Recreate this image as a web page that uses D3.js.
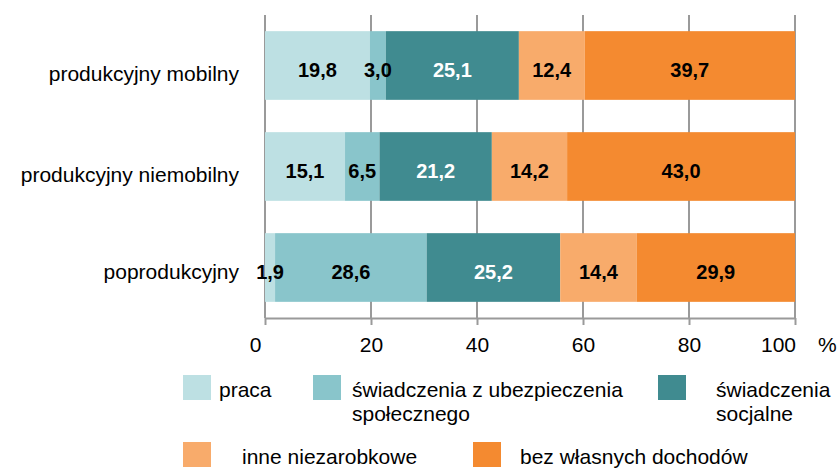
<!DOCTYPE html>
<html>
<head>
<meta charset="utf-8">
<script src="https://cdn.jsdelivr.net/npm/d3@7"></script>
<style>
  body { margin: 0; background: #fff; }
  svg { font-family: 'Liberation Sans', Arial, sans-serif; }
</style>
</head>
<body>
<script>
const categories = ['produkcyjny mobilny', 'produkcyjny niemobilny', 'poprodukcyjny'];
const seriesNames = ['praca', 'świadczenia z ubezpieczenia społecznego', 'świadczenia socjalne', 'inne niezarobkowe', 'bez własnych dochodów'];
const praca = [19.8, 15.1, 1.9];
const ubezpieczenia = [3.0, 6.5, 28.6];
const socjalne = [25.1, 21.2, 25.2];
const inne = [12.4, 14.2, 14.4];
const bezDochodow = [39.7, 43.0, 29.9];
const xTicks = [0, 20, 40, 60, 80, 100];
const colors = ['#bde0e3', '#89c5cb', '#408b90', '#f8ab6b', '#f48a30'];
const labelColors = ['#000', '#000', '#fff', '#000', '#000'];

const width = 838;
const height = 470;
const margin = { left: 265, right: 43, top: 15, bottom: 152 };

const rows = categories.map((c, i) => {
  const o = { cat: c };
  seriesNames.forEach((s, j) => { o[s] = [praca, ubezpieczenia, socjalne, inne, bezDochodow][j][i]; });
  return o;
});

const stacked = d3.stack().keys(seriesNames)(rows);

const svg = d3.select('body')
  .append('svg')
  .attr('width', width)
  .attr('height', height);

const x = d3.scaleLinear()
  .domain([0, 100])
  .range([margin.left, width - margin.right]);

const y = d3.scaleBand()
  .domain(categories)
  .range([margin.top, height - margin.bottom])
  .paddingInner(0.32)
  .paddingOuter(0.16);

// gridlines
svg.append('g')
  .selectAll('line')
  .data(xTicks)
  .enter()
  .append('line')
  .attr('x1', d => x(d))
  .attr('x2', d => x(d))
  .attr('y1', margin.top)
  .attr('y2', height - margin.bottom)
  .attr('stroke', '#9a9a9a')
  .attr('stroke-width', 2);

// bars
const layer = svg.append('g')
  .selectAll('g')
  .data(stacked)
  .enter()
  .append('g')
  .attr('fill', (d, i) => colors[i]);

layer.selectAll('rect')
  .data(d => d)
  .enter()
  .append('rect')
  .attr('x', d => x(d[0]))
  .attr('width', d => x(d[1]) - x(d[0]))
  .attr('y', d => y(d.data.cat))
  .attr('height', y.bandwidth());

// value labels
stacked.forEach((s, i) => {
  svg.append('g')
    .selectAll('text')
    .data(s)
    .enter()
    .append('text')
    .attr('x', d => x((d[0] + d[1]) / 2))
    .attr('y', d => y(d.data.cat) + y.bandwidth() / 2 + 11)
    .attr('text-anchor', 'middle')
    .attr('font-size', 20)
    .attr('font-weight', 'bold')
    .attr('fill', labelColors[i])
    .text(d => (d[1] - d[0]).toFixed(1).replace('.', ','));
});

// x axis
const xAxis = svg.append('g')
  .attr('transform', `translate(0,${ height - margin.bottom })`)
  .call(d3.axisBottom(x).tickValues(xTicks).tickSize(7).tickSizeOuter(0).tickPadding(12));

xAxis.select('.domain').attr('stroke', '#9a9a9a').attr('stroke-width', 2);
xAxis.selectAll('.tick line').attr('stroke', '#9a9a9a').attr('stroke-width', 2);
xAxis.selectAll('.tick text')
  .attr('font-size', 21)
  .attr('font-family', "'Liberation Sans', Arial, sans-serif")
  .attr('fill', '#000')
  .attr('dx', (d, i) => i === 0 ? -10 : (i === xTicks.length - 1 ? -17 : 0));

svg.append('text')
  .attr('x', x(100) + 23)
  .attr('y', height - margin.bottom + 34)
  .attr('font-size', 21)
  .text('%');

// category labels
const labelShift = [15, 15, 11];
svg.append('g')
  .selectAll('text')
  .data(categories)
  .enter()
  .append('text')
  .attr('x', 239)
  .attr('y', (d, i) => y(d) + y.bandwidth() / 2 + labelShift[i])
  .attr('text-anchor', 'end')
  .attr('font-size', 21)
  .text(d => d);

// legend
const legendItems = [
  { i: 0, x: 183, y: 375, tx: 219, lines: ['praca'] },
  { i: 1, x: 313, y: 375, tx: 352, lines: ['świadczenia z ubezpieczenia', 'społecznego'] },
  { i: 2, x: 658, y: 375, tx: 716, lines: ['świadczenia', 'socjalne'] },
  { i: 3, x: 183, y: 442, tx: 242, lines: ['inne niezarobkowe'] },
  { i: 4, x: 473, y: 442, tx: 520, lines: ['bez własnych dochodów'] }
];

const legend = svg.append('g');
legendItems.forEach(item => {
  legend.append('rect')
    .attr('x', item.x)
    .attr('y', item.y)
    .attr('width', 28)
    .attr('height', 25)
    .attr('fill', colors[item.i]);
  item.lines.forEach((line, k) => {
    legend.append('text')
      .attr('x', item.tx)
      .attr('y', item.y + 22 + k * 24)
      .attr('font-size', 21)
      .text(line);
  });
});
</script>
</body>
</html>
